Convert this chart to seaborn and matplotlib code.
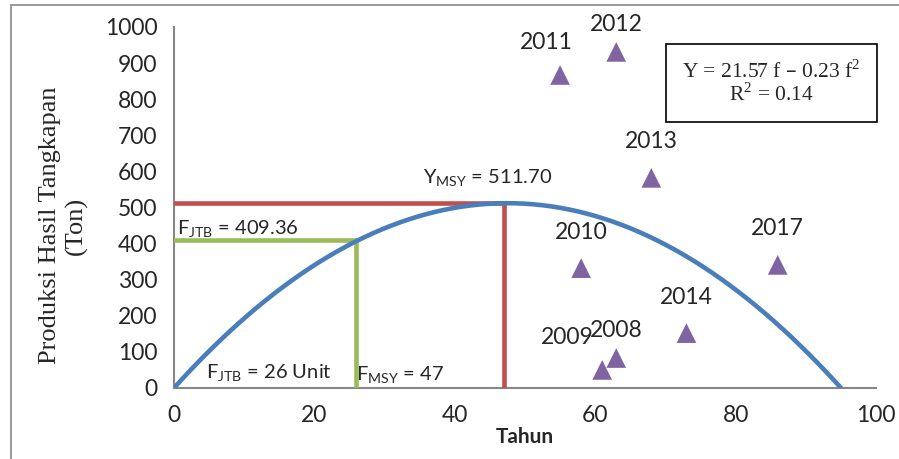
import numpy as np
import pandas as pd
import seaborn as sns
import matplotlib.pyplot as plt
from matplotlib.lines import Line2D

# observed catch per effort (year labels)
years = ["2008", "2009", "2010", "2011", "2012", "2013", "2014", "2017"]
effort = [63, 61, 58, 55, 63, 68, 73, 86]
catch = [83, 50, 332, 867, 931, 582, 152, 341]
# label offsets in data units (dx, dy)
label_dx = [0, -5, 0, -2, 0, 0, 0, 0]
label_dy = [75, 90, 100, 90, 75, 100, 100, 100]

# quadratic trend (peak at MSY, zero near 95)
coef_a = 21.55
coef_b = 0.2268
f_msy, y_msy = 47, 511.70
f_jtb, y_jtb = 26, 409.36

sns.set_style("white")
plt.rcParams["font.family"] = ["Lato", "DejaVu Sans"]

fig = plt.figure(figsize=(8.99, 4.59), dpi=100)
ax = fig.add_axes([0.1935, 0.1547, 0.7809, 0.7865])

# MSY / JTB guide lines
ax.plot([0, f_msy, f_msy], [y_msy, y_msy, 0], color="#C0504D", lw=3.3, zorder=3,
        solid_joinstyle="miter")
ax.plot([0, f_jtb, f_jtb], [y_jtb, y_jtb, 0], color="#9BBB59", lw=3.3, zorder=3,
        solid_joinstyle="round")

# fitted curve
root = coef_a / coef_b
f = np.linspace(0, root, 300)
curve = pd.DataFrame({"f": f, "y": coef_a * f - coef_b * f ** 2})
sns.lineplot(data=curve, x="f", y="y", color="#4A7EBB", lw=3.3, ax=ax, zorder=4)

obs = pd.DataFrame({"f": effort, "y": catch, "year": years})
sns.scatterplot(data=obs, x="f", y="y", marker="^", s=200, color="#8064A2",
                edgecolor="none", ax=ax, zorder=5, clip_on=False)
for yr, x, y, dx, dy in zip(years, effort, catch, label_dx, label_dy):
    ax.text(x + dx, y + dy, yr, ha="center", va="center", fontsize=16.5)

ax.set_xlim(0, 100)
ax.set_ylim(0, 1000)
ax.set_xticks(range(0, 101, 20))
ax.set_yticks(range(0, 1001, 100))
ax.tick_params(axis="both", direction="out", length=7, width=1.5, color="#878787",
               labelsize=16.5, pad=5)
for side in ["top", "right"]:
    ax.spines[side].set_visible(False)
for side in ["left", "bottom"]:
    ax.spines[side].set_color("#878787")
    ax.spines[side].set_linewidth(1.5)

ax.set_xlabel("Tahun", fontsize=15, fontweight="bold", labelpad=1)
ax.set_ylabel("Produksi Hasil Tangkapan\n(Ton)", fontsize=19,
              family="Liberation Serif", linespacing=1.2)
ax.yaxis.set_label_coords(-0.1225, 0.45)

# annotations
ax.text(35.5, 580, r"Y$_{\mathregular{MSY}}$ = 511.70", fontsize=14.5, va="center", zorder=2)
ax.text(0.5, 440, r"F$_{\mathregular{JTB}}$ = 409.36", fontsize=14.5, va="center", zorder=2)
ax.text(4.5, 40, r"F$_{\mathregular{JTB}}$ = 26 Unit", fontsize=14.5, va="center", zorder=2)
ax.text(25.9, 35, r"F$_{\mathregular{MSY}}$ = 47", fontsize=14.5, va="center", zorder=2)

ax.text(0.851, 0.845, "Y = 21.57 f – 0.23 f$^{\\mathregular{2}}$\nR$^{\\mathregular{2}}$ = 0.14",
        transform=ax.transAxes, ha="center", va="center", fontsize=15.5,
        family="Liberation Serif", linespacing=1.05,
        bbox=dict(boxstyle="square,pad=0.75", facecolor="white", edgecolor="black", lw=1.2),
        zorder=6)

# outer chart frame (top and left visible)
fig.add_artist(Line2D([11 / 899, 11 / 899], [0, 1 - 5 / 459], color="#878787", lw=1.2))
fig.add_artist(Line2D([11 / 899, 1], [1 - 5 / 459, 1 - 5 / 459], color="#878787", lw=1.2))

fig.savefig("out.png", dpi=100)
